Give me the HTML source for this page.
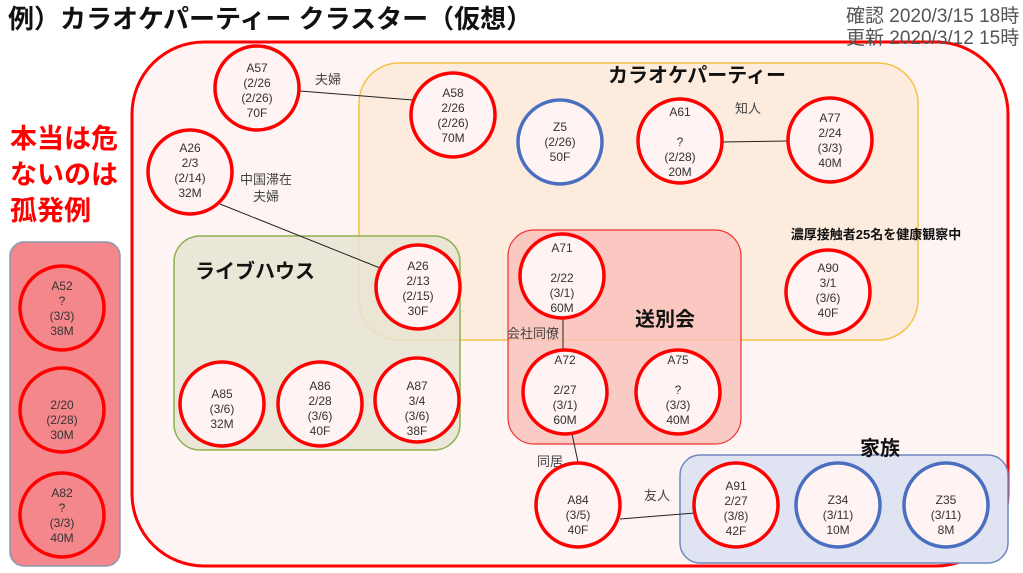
<!DOCTYPE html>
<html><head><meta charset="utf-8"><style>
body{margin:0;width:1023px;height:573px;overflow:hidden;background:#fff;}
svg{display:block;font-family:"Liberation Sans","Noto Sans CJK JP",sans-serif;}
.c text{font-size:12px;fill:#333;text-anchor:middle;}
.l{font-size:13px;fill:#444;text-anchor:middle;}
.h{font-size:20px;font-weight:bold;fill:#111;text-anchor:middle;}
</style></head><body>
<svg width="1023" height="573" viewBox="0 0 1023 573">
<text x="8" y="28" font-size="26" font-weight="bold" fill="#111">例）カラオケパーティー クラスター（仮想）</text>
<text x="846" y="22" font-size="19" fill="#555">確認 2020/3/15 18時</text>
<rect x="132" y="42" width="876" height="524" rx="72" fill="#fff4f4" stroke="#f00" stroke-width="3"/>
<text x="846" y="44" font-size="19" fill="#555">更新 2020/3/12 15時</text>
<rect x="10" y="242" width="110" height="324" rx="14" fill="#f4878b" stroke="#8a96b0" stroke-width="1.5"/>
<text x="10" y="148" font-size="27" font-weight="bold" fill="#f00">本当は危</text>
<text x="10" y="184" font-size="27" font-weight="bold" fill="#f00">ないのは</text>
<text x="10" y="220" font-size="27" font-weight="bold" fill="#f00">孤発例</text>
<rect x="359" y="63" width="559" height="277" rx="40" fill="#fdead8" fill-opacity="0.85" stroke="#f5c242" stroke-width="1.5"/>
<rect x="174" y="236" width="286" height="214" rx="26" fill="#e8e4d2" fill-opacity="0.85" stroke="#8db050" stroke-width="1.5"/>
<rect x="508" y="230" width="233" height="214" rx="26" fill="#f9c2bc" fill-opacity="0.85" stroke="#f03030" stroke-width="1.2"/>
<rect x="680" y="455" width="328" height="108" rx="20" fill="#dfe3f2" stroke="#6f88c0" stroke-width="1.5"/>
<text class="h" x="697" y="82">カラオケパーティー</text>
<text class="h" x="255" y="278">ライブハウス</text>
<text class="h" x="665" y="326">送別会</text>
<text class="h" x="880" y="455">家族</text>
<text x="876" y="239" font-size="13" font-weight="bold" fill="#111" text-anchor="middle">濃厚接触者25名を健康観察中</text>
<g stroke="#222" stroke-width="1">
<line x1="300" y1="91" x2="413" y2="100"/>
<line x1="220" y1="204" x2="380" y2="268"/>
<line x1="722" y1="142" x2="788" y2="141"/>
<line x1="563" y1="318" x2="563" y2="350"/>
<line x1="572" y1="434" x2="578" y2="462"/>
<line x1="620" y1="519" x2="695" y2="513"/>
</g>
<text class="l" x="328" y="84">夫婦</text>
<text class="l" x="266" y="184">中国滞在</text>
<text class="l" x="266" y="201">夫婦</text>
<text class="l" x="748" y="113">知人</text>
<text class="l" x="533" y="338">会社同僚</text>
<text class="l" x="550" y="466">同居</text>
<text class="l" x="657" y="500">友人</text>
<g class="c" stroke-width="3.5">
<circle cx="257" cy="88" r="42" fill="#fff3f3" stroke="#f00"/>
<circle cx="453" cy="115" r="42" fill="#fff3f3" stroke="#f00"/>
<circle cx="560" cy="142" r="42" fill="#fff3f3" stroke="#4a6fc0"/>
<circle cx="680" cy="141" r="42" fill="#fff3f3" stroke="#f00"/>
<circle cx="830" cy="140" r="42" fill="#fff3f3" stroke="#f00"/>
<circle cx="190" cy="172" r="42" fill="#fff3f3" stroke="#f00"/>
<circle cx="418" cy="287" r="42" fill="#fff3f3" stroke="#f00"/>
<circle cx="562" cy="276" r="42" fill="#fff3f3" stroke="#f00"/>
<circle cx="828" cy="292" r="42" fill="#fff3f3" stroke="#f00"/>
<circle cx="222" cy="404" r="42" fill="#fff3f3" stroke="#f00"/>
<circle cx="320" cy="404" r="42" fill="#fff3f3" stroke="#f00"/>
<circle cx="417" cy="400" r="42" fill="#fff3f3" stroke="#f00"/>
<circle cx="565" cy="392" r="42" fill="#fff3f3" stroke="#f00"/>
<circle cx="678" cy="392" r="42" fill="#fff3f3" stroke="#f00"/>
<circle cx="578" cy="505" r="42" fill="#fff3f3" stroke="#f00"/>
<circle cx="736" cy="505" r="42" fill="#fff3f3" stroke="#f00"/>
<circle cx="838" cy="505" r="42" fill="#fff3f3" stroke="#4a6fc0"/>
<circle cx="946" cy="505" r="42" fill="#fff3f3" stroke="#4a6fc0"/>
<circle cx="62" cy="308" r="42" fill="#f4878b" stroke="#f00"/>
<circle cx="62" cy="410" r="42" fill="#f4878b" stroke="#f00"/>
<circle cx="62" cy="515" r="42" fill="#f4878b" stroke="#f00"/>
<text x="257" y="72">A57</text><text x="257" y="87">(2/26</text><text x="257" y="102">(2/26)</text><text x="257" y="117">70F</text>
<text x="453" y="97">A58</text><text x="453" y="112">2/26</text><text x="453" y="127">(2/26)</text><text x="453" y="142">70M</text>
<text x="560" y="131">Z5</text><text x="560" y="146">(2/26)</text><text x="560" y="161">50F</text>
<text x="680" y="116">A61</text><text x="680" y="146">?</text><text x="680" y="161">(2/28)</text><text x="680" y="176">20M</text>
<text x="830" y="122">A77</text><text x="830" y="137">2/24</text><text x="830" y="152">(3/3)</text><text x="830" y="167">40M</text>
<text x="190" y="152">A26</text><text x="190" y="167">2/3</text><text x="190" y="182">(2/14)</text><text x="190" y="197">32M</text>
<text x="418" y="270">A26</text><text x="418" y="285">2/13</text><text x="418" y="300">(2/15)</text><text x="418" y="315">30F</text>
<text x="562" y="252">A71</text><text x="562" y="282">2/22</text><text x="562" y="297">(3/1)</text><text x="562" y="312">60M</text>
<text x="828" y="272">A90</text><text x="828" y="287">3/1</text><text x="828" y="302">(3/6)</text><text x="828" y="317">40F</text>
<text x="222" y="398">A85</text><text x="222" y="413">(3/6)</text><text x="222" y="428">32M</text>
<text x="320" y="390">A86</text><text x="320" y="405">2/28</text><text x="320" y="420">(3/6)</text><text x="320" y="435">40F</text>
<text x="417" y="390">A87</text><text x="417" y="405">3/4</text><text x="417" y="420">(3/6)</text><text x="417" y="435">38F</text>
<text x="565" y="364">A72</text><text x="565" y="394">2/27</text><text x="565" y="409">(3/1)</text><text x="565" y="424">60M</text>
<text x="678" y="364">A75</text><text x="678" y="394">?</text><text x="678" y="409">(3/3)</text><text x="678" y="424">40M</text>
<text x="578" y="504">A84</text><text x="578" y="519">(3/5)</text><text x="578" y="534">40F</text>
<text x="736" y="490">A91</text><text x="736" y="505">2/27</text><text x="736" y="520">(3/8)</text><text x="736" y="535">42F</text>
<text x="838" y="504">Z34</text><text x="838" y="519">(3/11)</text><text x="838" y="534">10M</text>
<text x="946" y="504">Z35</text><text x="946" y="519">(3/11)</text><text x="946" y="534">8M</text>
<text x="62" y="290">A52</text><text x="62" y="305">?</text><text x="62" y="320">(3/3)</text><text x="62" y="335">38M</text>
<text x="62" y="409">2/20</text><text x="62" y="424">(2/28)</text><text x="62" y="439">30M</text>
<text x="62" y="497">A82</text><text x="62" y="512">?</text><text x="62" y="527">(3/3)</text><text x="62" y="542">40M</text>
</g>
</svg>
</body></html>
